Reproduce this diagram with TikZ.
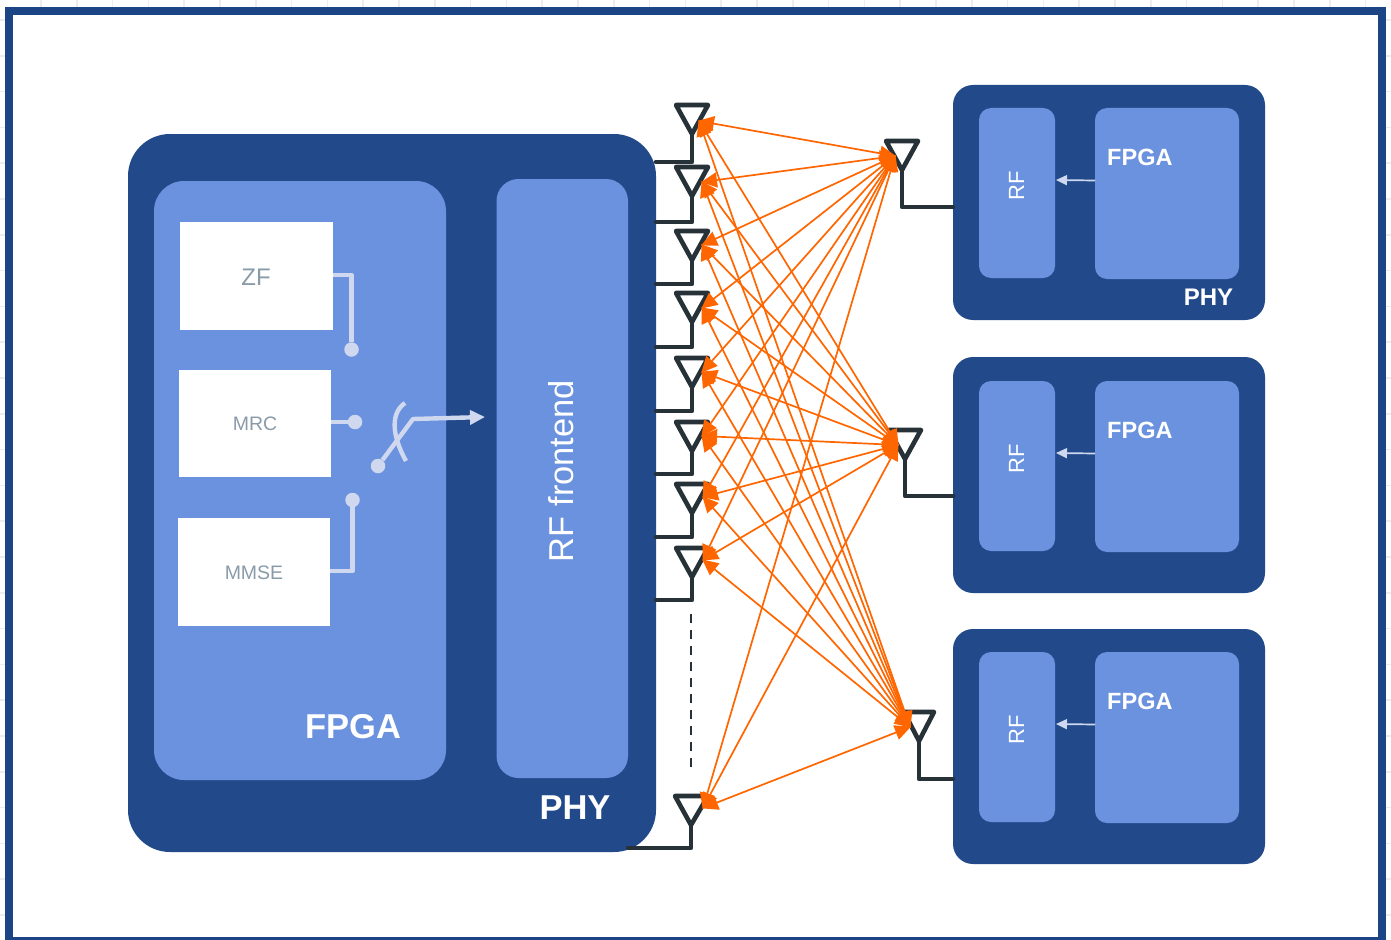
\documentclass[tikz,border=0pt]{standalone}
\usepackage{fontspec}
\setmainfont{Liberation Sans}
\usetikzlibrary{arrows.meta}
\definecolor{dkblue}{HTML}{224A8B}
\definecolor{ltblue}{HTML}{6A92DE}
\definecolor{frameblue}{HTML}{1C4585}
\definecolor{swline}{HTML}{D0D8F0}
\definecolor{antcol}{HTML}{263238}
\definecolor{orangeln}{HTML}{FF6600}
\definecolor{greytxt}{HTML}{8A9BA8}
\definecolor{gridcol}{HTML}{EDEDED}
\newcommand{\fs}[1]{\fontsize{#1}{#1}\selectfont}
\tikzset{
  x=1pt,y=-1pt,
  dark/.style={fill=dkblue,draw=none},
  light/.style={fill=ltblue,draw=none},
  whitebox/.style={fill=white,draw=none},
  ant/.style={draw=antcol,line width=4.6pt,line join=round,line cap=round},
  sw/.style={draw=swline,line width=4.4pt},
  swdot/.style={circle,fill=swline,draw=none,minimum size=14.5pt,inner sep=0pt},
  link/.style={draw=orangeln,line width=1.7pt,{Triangle[length=16pt,width=15pt]}-{Triangle[length=16pt,width=15pt]},shorten <=-1pt,shorten >=-1pt},
  lab/.style={inner sep=0pt,text=white},
}
\begin{document}
\begin{tikzpicture}
\useasboundingbox (0,0) rectangle (1391,939);
\fill[white] (0,0) rectangle (1391,939);
% faint sheet grid in the margin
\foreach \gx in {41,76.8,...,1391} \draw[gridcol,line width=1.5pt] (\gx,0) -- (\gx,939);
\foreach \gy in {20,55.8,...,939} \draw[gridcol,line width=1.5pt] (0,\gy) -- (1391,\gy);
\begin{scope}
\clip (0,0) rectangle (1391,939);
\fill[white] (9,11) rectangle (1382,941);
\draw[frameblue,line width=8pt] (9,11) rectangle (1382,941);
\end{scope}
% left unit
\fill[dark,rounded corners=42pt] (128,134) rectangle (656,852);
\fill[light,rounded corners=30pt] (154,181) rectangle (446,780);
\fill[light,rounded corners=22pt] (496.5,179) rectangle (628,778);
\node[lab,font=\fs{34.5}\bfseries] (fpgaL) at (353,727) {FPGA};
\node[lab,font=\fs{34.5}\bfseries] (phyL) at (575,808) {PHY};
\node[lab,font=\fs{34.5},rotate=90] (rffront) at (561.5,471) {RF frontend};
\fill[whitebox] (180,222) rectangle (333,330);
\fill[whitebox] (179,370) rectangle (331,477);
\fill[whitebox] (178,518) rectangle (330,626);
\node[inner sep=0pt,text=greytxt,font=\fs{24}] (zf) at (256,277) {ZF};
\node[inner sep=0pt,text=greytxt,font=\fs{19.5}] (mrc) at (255,424) {MRC};
\node[inner sep=0pt,text=greytxt,font=\fs{19.5}] (mmse) at (254,573) {MMSE};
% switch
\node[swdot] (d1) at (351.5,349.5) {};
\node[swdot] (d2) at (355,422) {};
\node[swdot] (d3) at (352.5,500) {};
\node[swdot] (d4) at (378,466) {};
\coordinate (zfout) at (333,275);
\coordinate (mrcout) at (331,422);
\coordinate (mmseout) at (330,571);
\coordinate (swbend) at (413,419);
\coordinate (swtip) at (485,417);
\draw[sw,line join=round] (zfout) -| (d1);
\draw[sw] (mrcout) -- (d2);
\draw[sw,line join=round] (mmseout) -| (d3);
\draw[sw,line join=round,-{Triangle[length=15pt,width=14pt]}] (d4) -- (swbend) -- (swtip);
\draw[sw] (405,403) .. controls (392,412) and (390,432) .. (406,461);
% right units
\foreach \n/\ya/\yb/\ra/\rb/\fa/\fb in {A/85/320/108/278/108/279, B/357/593/381/551/381/552, C/629/864/652/822/652/823}{
  \fill[dark,rounded corners=20pt] (953,\ya) rectangle (1265,\yb);
  \fill[light,rounded corners=12pt] (979,\ra) rectangle (1055,\rb);
  \fill[light,rounded corners=12pt] (1095,\fa) rectangle (1239,\fb);
  \node[lab,anchor=west,font=\fs{23.5}\bfseries] (fpga\n) at (1107,\fa+49) {FPGA};
  \node[lab,font=\fs{22},rotate=90] (rf\n) at (1016.5,\ra+78) {RF};
  \coordinate (fa\n) at (1095,\ra+72.5);
  \coordinate (fb\n) at (1056,\ra+72);
  \draw[swline,line width=1.7pt,-{Triangle[length=11pt,width=10pt]}] (fa\n) -- (fb\n);
}
\node[lab,font=\fs{24}\bfseries] (phyA) at (1208.5,297) {PHY};
% antennas on the left
\foreach \n/\t/\s in {1/105/162,2/167/222,3/231/284,4/293/347,5/358/411,6/422/474,7/484/537,8/548/600}{
  \coordinate (at\n) at (692,\t+29);
  \coordinate (af\n) at (692,\s);
  \coordinate (ae\n) at (656,\s);
  \draw[ant] (676,\t) -- (708,\t) -- (at\n) -- cycle;
  \draw[ant] (at\n) -- (af\n) -- (ae\n);
}
\coordinate (at9) at (691,825);
\coordinate (af9) at (691,848);
\coordinate (ae9) at (628,848);
\draw[ant] (675,796) -- (708,796) -- (at9) -- cycle;
\draw[ant] (at9) -- (af9) -- (ae9);
\coordinate (dash1) at (691,614);
\coordinate (dash2) at (691,774);
\draw[antcol,line width=1.8pt,dash pattern=on 9pt off 7pt] (dash1) -- (dash2);
% antennas on the right
\foreach \n/\l/\r/\t/\ax/\ay/\sy in {A/886/918/141/902/170/207,B/889/921/430/905/459/496,C/904/934/712/919/741/779}{
  \coordinate (rt\n) at (\ax,\ay);
  \coordinate (rf\n) at (\ax,\sy);
  \coordinate (re\n) at (953,\sy);
  \draw[ant] (\l,\t) -- (\r,\t) -- (rt\n) -- cycle;
  \draw[ant] (rt\n) -- (rf\n) -- (re\n);
}
% radio links
\coordinate (p1) at (699,121);
\coordinate (p2) at (702,182);
\coordinate (p3) at (702,245);
\coordinate (p4) at (702,308);
\coordinate (p5) at (702,372);
\coordinate (p6) at (702,436);
\coordinate (p7) at (703,497);
\coordinate (p8) at (703,560);
\coordinate (p9) at (703,808);
\coordinate (qA) at (895,156);
\coordinate (qB) at (898,445);
\coordinate (qC) at (910,727);
\foreach \i in {1,...,9}{
  \foreach \j in {A,B,C}{
    \draw[link] (p\i) -- (q\j);
  }
}
\end{tikzpicture}
\end{document}
